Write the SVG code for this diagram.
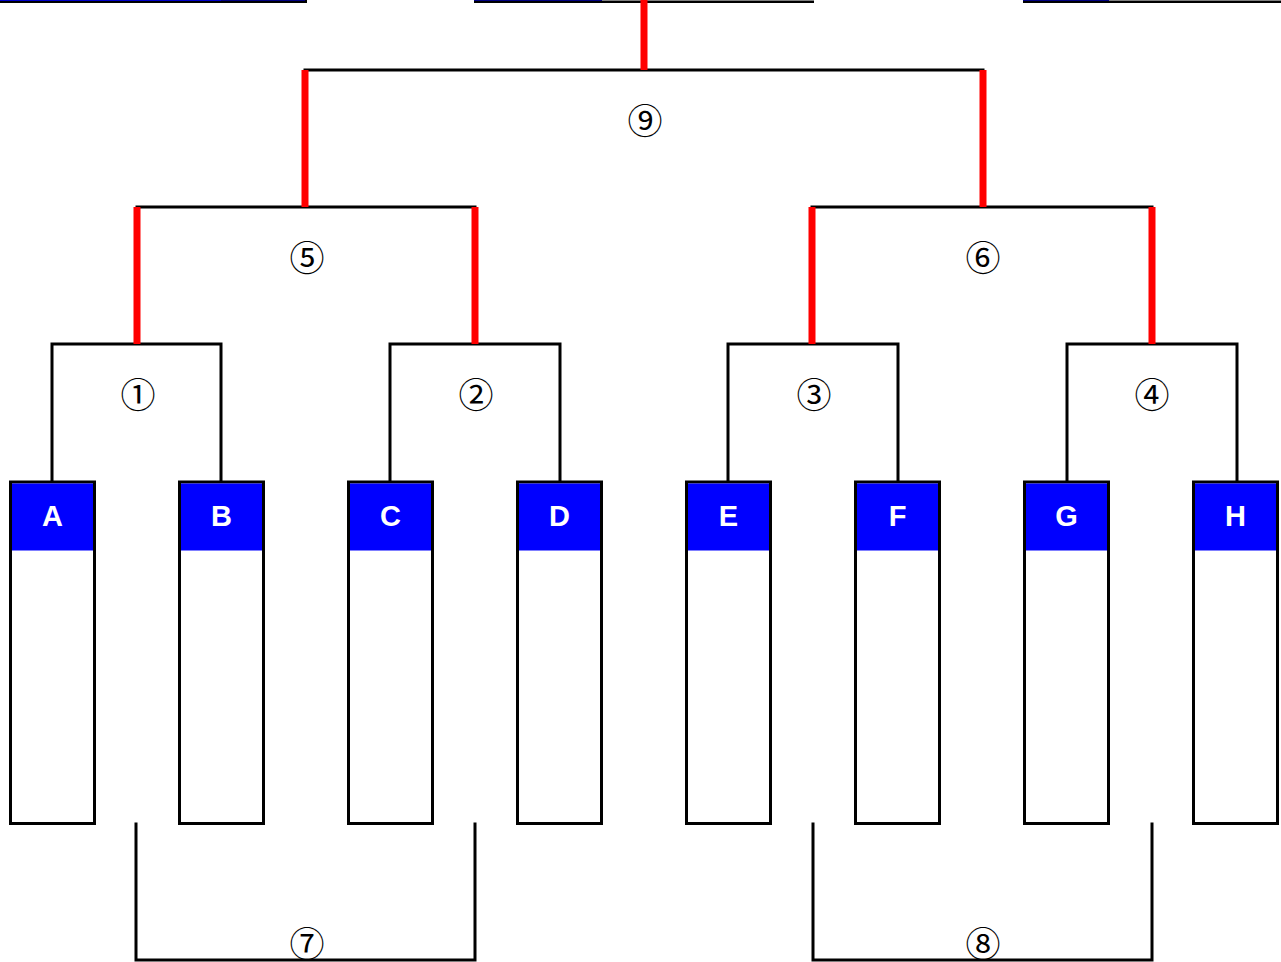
<svg xmlns="http://www.w3.org/2000/svg" width="1281" height="962" viewBox="0 0 1281 962">
<style>
.bk{fill:none;stroke:#000;stroke-width:3;stroke-linecap:square}
.rd{fill:none;stroke:#ff0000;stroke-width:7}
.box{fill:#fff;stroke:#000;stroke-width:3}
.hdr{fill:#0000ff}
.lt{font-family:"Liberation Sans",Arial,sans-serif;font-weight:bold;font-size:29px;fill:#fff;text-anchor:middle}
.num{font-family:"Noto Sans CJK JP","DejaVu Sans",sans-serif;font-size:35px;fill:#000;text-anchor:middle}
</style>
<rect width="1281" height="962" fill="#fff"/>
<g id="top-cut">
<rect x="-5" y="-20" width="226" height="22" fill="#0000c8"/>
<rect x="221" y="-20" width="84" height="22" fill="#000080"/>
<line x1="-5" y1="2" x2="307" y2="2" stroke="#000" stroke-width="2"/>
<line x1="306" y1="-5" x2="306" y2="3" stroke="#000" stroke-width="2"/>
<rect x="474" y="-20" width="128" height="22" fill="#000080"/>
<rect x="602" y="-20" width="212" height="22" fill="#808080"/>
<line x1="474" y1="2" x2="814" y2="2" stroke="#000" stroke-width="2"/>
<rect x="1023" y="-20" width="86" height="22" fill="#000080"/>
<rect x="1109" y="-20" width="180" height="22" fill="#808080"/>
<line x1="1023" y1="2" x2="1285" y2="2" stroke="#000" stroke-width="2"/>
</g>
<g id="connectors">
<path class="bk" d="M305,70H983"/>
<path class="bk" d="M137,207H475M812,207H1152"/>
<path class="bk" d="M52,481V344H221V481M390,481V344H560V481M728,481V344H898V481M1067,481V344H1237V481"/>
<path class="bk" d="M136,824V960H475V824M813,824V960H1152V824"/>
<path class="rd" d="M644,0V70M305,70V207M983,70V207M137,207V344M475,207V344M812,207V344M1152,207V344"/>
</g>
<g id="labels">
<text class="num" x="645" y="134">⑨</text>
<text class="num" x="307" y="271">⑤</text>
<text class="num" x="983" y="271">⑥</text>
<text class="num" x="138" y="408">①</text>
<text class="num" x="476" y="408">②</text>
<text class="num" x="814" y="408">③</text>
<text class="num" x="1152" y="408">④</text>
<text class="num" x="307" y="957">⑦</text>
<text class="num" x="983" y="957">⑧</text>
</g>
<g id="node-A"><rect class="box" x="10.5" y="482" width="84" height="341.5"/><rect class="hdr" x="12" y="483.5" width="81" height="67"/><text class="lt" x="52.5" y="526">A</text></g>
<g id="node-B"><rect class="box" x="179.5" y="482" width="84" height="341.5"/><rect class="hdr" x="181" y="483.5" width="81" height="67"/><text class="lt" x="221.5" y="526">B</text></g>
<g id="node-C"><rect class="box" x="348.5" y="482" width="84" height="341.5"/><rect class="hdr" x="350" y="483.5" width="81" height="67"/><text class="lt" x="390.5" y="526">C</text></g>
<g id="node-D"><rect class="box" x="517.5" y="482" width="84" height="341.5"/><rect class="hdr" x="519" y="483.5" width="81" height="67"/><text class="lt" x="559.5" y="526">D</text></g>
<g id="node-E"><rect class="box" x="686.5" y="482" width="84" height="341.5"/><rect class="hdr" x="688" y="483.5" width="81" height="67"/><text class="lt" x="728.5" y="526">E</text></g>
<g id="node-F"><rect class="box" x="855.5" y="482" width="84" height="341.5"/><rect class="hdr" x="857" y="483.5" width="81" height="67"/><text class="lt" x="897.5" y="526">F</text></g>
<g id="node-G"><rect class="box" x="1024.5" y="482" width="84" height="341.5"/><rect class="hdr" x="1026" y="483.5" width="81" height="67"/><text class="lt" x="1066.5" y="526">G</text></g>
<g id="node-H"><rect class="box" x="1193.5" y="482" width="84" height="341.5"/><rect class="hdr" x="1195" y="483.5" width="81" height="67"/><text class="lt" x="1235.5" y="526">H</text></g>
</svg>
